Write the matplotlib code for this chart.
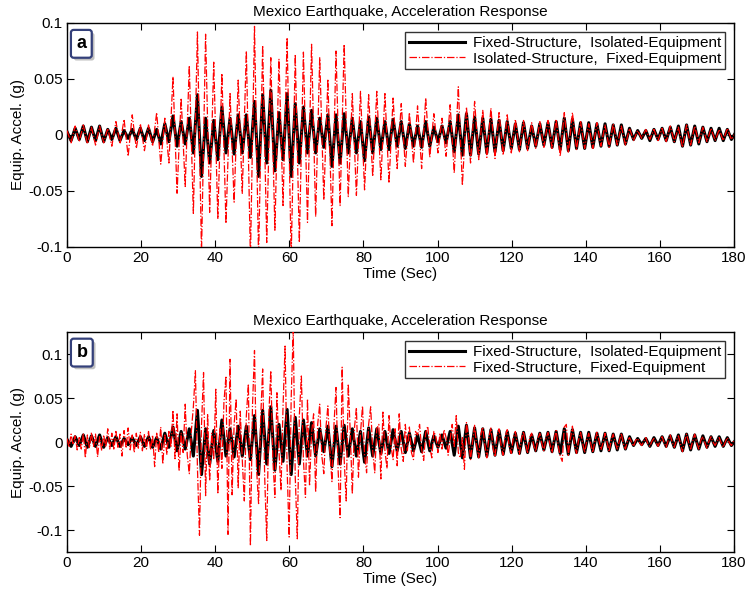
import numpy as np
import matplotlib
matplotlib.use("Agg")
import matplotlib.pyplot as plt
from matplotlib import font_manager
import matplotlib.patheffects as pe

# ---------------- data (acceleration in 0.001 g) ----------------
dt_black = 1.1   # s between samples (successive extrema)
dt_red_a = 1.1
dt_red_b = 0.55

black_vals = [
    3, -5, 6, -4, 8, -6, 7, -5, 8, -6, 5, -4, 6, -5, 4, -3, 5, -4, 6,
    -5, 6, -6, 5, -8, 10, -6, 17, -10, 12, -8, 15, -16, 36, -37, 15, -25, 13,
    -22, 25, -16, 15, -17, 18, -16, 18, -20, 30, -37, 36, -25, 40, -32, 20, -22,
    37, -37, 28, -25, 25, -16, 22, -16, 15, -11, 18, -28, 18, -25, 19, -16, 15,
    -16, 12, -23, 16, -16, 15, -13, 12, -13, 14, -10, 12, -12, 10, -10, 8, -11,
    12, -10, 7, -6, 8, -7, 12, -15, 18, -18, 19, -18, 16, -17, 15, -16, 14, -15,
    13, -14, 12, -12, 10, -13, 11, -12, 8, -10, 10, -9, 11, -11, 12, -13, 15,
    -14, 14, -12, 11, -12, 11, -11, 10, -10, 10, -10, 9, -9, 9, -8, 6, -4, 4,
    -3, 4, -5, 5, -4, 6, -5, 7, -6, 8, -10, 9, -9, 8, -8, 7, -6, 6, -5, 6, -5,
    5, -4, 2,
]

red_a_vals = [
    4, -7, 8, -6, 9, -8, 7, -9, 8, -7, 6, -10, 12, -8, 14, -19, 18, -12, 10,
    -14, 9, -10, 20, -26, 15, -25, 52, -52, 33, -46, 62, -70, 92, -105, 90, -69,
    65, -75, 55, -79, 37, -60, 49, -52, 75, -110, 97, -110, 80, -96, 69, -85, 68,
    -63, 87, -110, 72, -96, 74, -78, 81, -73, 69, -58, 50, -81, 75, -63, 81, -55,
    37, -54, 39, -49, 36, -37, 39, -40, 37, -43, 33, -30, 28, -28, 20, -25, 26,
    -30, 33, -20, 19, -16, 15, -19, 27, -34, 43, -45, 25, -25, 30, -22, 22, -20,
    24, -21, 20, -18, 18, -16, 14, -15, 13, -14, 11, -12, 12, -11, 13, -12, 14,
    -19, 20, -16, 20, -13, 12, -12, 10, -12, 11, -10, 9, -11, 10, -9, 8, -9, 6,
    -5, 4, -3, 5, -4, 5, -5, 6, -6, 8, -6, 7, -11, 9, -9, 8, -7, 7, -6, 6, -5,
    5, -5, 6, -4, 2,
]

red_b_vals = [
    4, -6, 9, -3, 7, -9, 5, -8, 10, -18, 8, -7, 11, -5, 9, -17, 6, -10, 8, -6,
    15, -8, 10, -9, 12, -6, 9, -16, 13, -7, 16, -9, 8, -12, 10, -7, 11, -10, 9,
    -8, 12, -9, 8, -28, 10, -12,
    17, -25, 8, -14, 12, -6, 36, -19, 32, -33, 10, -12, 43, -15, -36, 12, 40, 81,
    -29, -106, 20, 79, -61, 32, -44, 10, -20, 60, -59, 15, -30, 45, 75, -105, 94,
    -60, 20, 49, -52, 35, -20, -67, 30, 66, -118, 40, 104, -30, -70, 25, 83, -40,
    -112, 30, 81, -20, -63, 56, -10, -55, 40, 109, -30, -108, 50, 127, -40, -110,
    30, 75, -20, -63, 49, -50, 10, 32, -57, 20, 43, -15, -36, 15, 41, -10, -45,
    20, 62, -30, -86, 85, -20, -67, 66, 10, -59, 15, 39, -40, 10, 41, -15, -35,
    20, 40, -10, -35, 15, 20, -42, 34, -10, -30, 30, -5, -20, 15, -27, 32, -8,
    -22, 20, -10, 17, -12, -20, 12, 8, 20, -8, -21, 10, 18, -6, -18, 12, 6, -12,
    10, -8, 14, 5, -15, 3, 20, -5, 30, -12, -18, 5, -31, 22, 6, -20, 0, 19, -5,
    -18, 8, 17, -3, -18, 5, 16, -6, -17, 7, 15, -4, -15, 6, 14, -5, -13, 5, 12,
    -3, -14, 4, 12, -2, -13, 5, 10, -4, -11, 3, 10, -2, -10, 4, 11, -3, -12, 3,
    13, -4, -16, -22, 17, 20, -15, 4, 18, -3, -13, 2, 11, -1, -12,
    1, 10, -2, -12, 1, 11, 2, -9, -1, 10, 0, -11, 2, 9, -1, -8, 1, 10, -2, -8,
    1, 5, 0, -5, 2, 4, -1, -4, 1, 5, -2, -5, 1, 4, 0, -5, 1, 6, -1, -6, 2, 8,
    -1, -6, 2, 7, -2, -11, 1, 9, 0, -8, 1, 9, -1, -8, 2, 6, -1, -7, 1, 6, 0, -4,
    1, 5, -1, -6, 0, 5, -1, -4, 1,
]

x_ticks = [0, 20, 40, 60, 80, 100, 120, 140, 160, 180]
y_ticks = [-0.1, -0.05, 0, 0.05, 0.1]
y_tick_labels = ["-0.1", "-0.05", "0", "0.05", "0.1"]

title_text = "Mexico Earthquake, Acceleration Response"
label_black = "Fixed-Structure,  Isolated-Equipment"
label_red_a = "Isolated-Structure,  Fixed-Equipment"
label_red_b = "Fixed-Structure,  Fixed-Equipment"

# ---------------- style ----------------
names = {f.name for f in font_manager.fontManager.ttflist}
fams = [f for f in ["Liberation Sans Narrow", "Liberation Sans", "DejaVu Sans"] if f in names]
plt.rcParams["font.family"] = fams
plt.rcParams["font.size"] = 10

black = np.array(black_vals) / 1000.0
red_a = np.array(red_a_vals) / 1000.0
red_b = np.array(red_b_vals) / 1000.0
t_black = np.arange(len(black)) * dt_black
t_red_a = np.arange(len(red_a)) * dt_red_a
t_red_b = np.arange(len(red_b)) * dt_red_b

fig = plt.figure(figsize=(7.46, 5.96), dpi=100)
W, H = 746, 596
def ax_at(l, t, r, b):
    return fig.add_axes([l / W, 1 - b / H, (r - l) / W, (b - t) / H])

ax1 = ax_at(67, 23, 734, 247)
ax2 = ax_at(67, 332, 734, 552)

panels = [(ax1, red_a, t_red_a, label_red_a, (-0.1, 0.1), "a"),
          (ax2, red_b, t_red_b, label_red_b, (-0.125, 0.125), "b")]

for ax, red, t_red, lab_red, ylim, letter in panels:
    ax.plot(t_black, black, color="black", lw=2.2, label=label_black, zorder=2)
    ax.plot(t_red, red, color="red", lw=0.9, ls=(0, (6, 1.5, 1, 1.5)),
            label=lab_red, zorder=3)
    ax.set_xlim(0, 180)
    ax.set_ylim(*ylim)
    ax.set_xticks(x_ticks)
    ax.set_yticks(y_ticks)
    ax.set_yticklabels(y_tick_labels)
    ax.tick_params(direction="in", top=True, right=True, length=5,
                   labelsize=11, pad=3)
    for s in ax.spines.values():
        s.set_linewidth(1.0)
    ax.set_title(title_text, fontsize=11, pad=5)
    ax.set_xlabel("Time (Sec)", fontsize=11, labelpad=1)
    ax.set_ylabel("Equip. Accel. (g)", fontsize=11, labelpad=2)
    leg = ax.legend(loc="upper right", fontsize=11, frameon=True, fancybox=False,
                    edgecolor="black", handlelength=3.7, handletextpad=0.5,
                    borderpad=0.25, labelspacing=0.1, borderaxespad=0.6)
    leg.get_frame().set_linewidth(1.0)
    leg.set_zorder(6)
    ax.text(0.014, 0.945, letter, transform=ax.transAxes, fontsize=13,
            fontweight="bold", ha="left", va="top", zorder=5,
            bbox=dict(boxstyle="round,pad=0.3,rounding_size=0.15", fc="white",
                      ec="#34407a", lw=1.6,
                      path_effects=[pe.withSimplePatchShadow(offset=(2, -2),
                                                             alpha=0.35)]))

fig.savefig("out.png", dpi=100)
